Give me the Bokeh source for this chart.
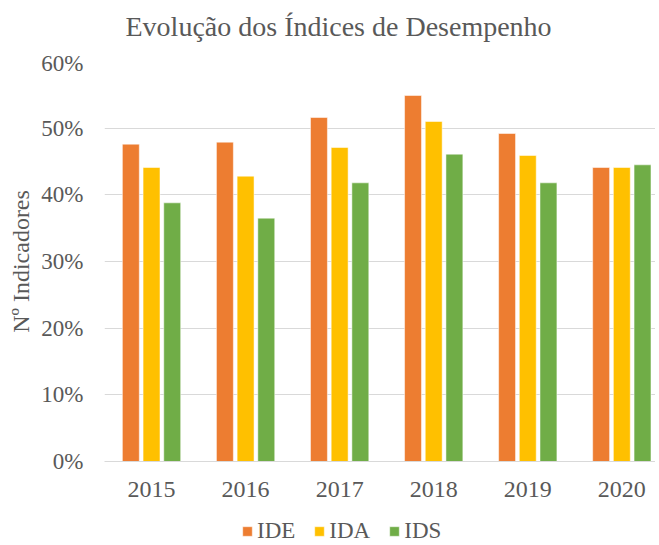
from bokeh.plotting import figure
from bokeh.layouts import column
from bokeh.models import (ColumnDataSource, Range1d, FixedTicker, NumeralTickFormatter,
                          Legend, LegendItem, Label)
from bokeh.transform import dodge
from bokeh.embed import file_html
from bokeh.resources import INLINE

title_text = "Evolução dos Índices de Desempenho"
y_label = "Nº Indicadores"
years = ["2015", "2016", "2017", "2018", "2019", "2020"]
ide = [0.476, 0.479, 0.516, 0.549, 0.492, 0.441]
ida = [0.441, 0.428, 0.471, 0.510, 0.459, 0.441]
ids = [0.388, 0.365, 0.418, 0.461, 0.418, 0.445]
series = ["IDE", "IDA", "IDS"]
colors = ["#ED7D31", "#FFC000", "#70AD47"]
y_ticks = [0.0, 0.1, 0.2, 0.3, 0.4, 0.5, 0.6]

FONT = "Liberation Serif"
TXT = "#595959"
GRID = "#D9D9D9"
W = 655
LEFT = 104

src = ColumnDataSource(dict(x=list(range(len(years))), IDE=ide, IDA=ida, IDS=ids))
x_range = Range1d(-0.5, 5.358)


def strip(h, yr):
    f = figure(width=W, height=h, x_range=x_range, y_range=yr,
               output_backend="svg", toolbar_location=None,
               x_axis_location=None, y_axis_location=None,
               min_border_left=LEFT, min_border_right=0, min_border_top=0, min_border_bottom=0)
    f.outline_line_color = None
    f.grid.visible = False
    return f


# ---- title strip
pt = strip(50, Range1d(0, 1))
pt.add_layout(Label(x=21, y=24, x_units="screen", y_units="screen", text=title_text,
                    text_font=FONT, text_font_size="28px", text_color=TXT,
                    text_baseline="middle", text_align="left"))

# ---- main chart
p = figure(width=W, height=456, x_range=x_range, y_range=Range1d(0, 0.6),
           output_backend="svg", toolbar_location=None,
           min_border_left=LEFT, min_border_right=0, min_border_top=11, min_border_bottom=45)
p.outline_line_color = None

bw = 0.18
offsets = [-0.22, 0.0, 0.22]
for name, col, off in zip(series, colors, offsets):
    p.vbar(x=dodge("x", off), top=name, width=bw, source=src, fill_color=col,
           line_color="white", line_alpha=0.5, line_width=1)

xa = p.xaxis[0]
xa.ticker = FixedTicker(ticks=list(range(len(years))))
xa.major_label_overrides = {i: y for i, y in enumerate(years)}
xa.major_label_text_font = FONT
xa.major_label_text_font_size = "24px"
xa.major_label_text_color = TXT
xa.major_tick_line_color = None
xa.minor_tick_line_color = None
xa.axis_line_color = GRID
xa.axis_line_width = 1
xa.major_label_standoff = 14

ya = p.yaxis[0]
ya.ticker = FixedTicker(ticks=y_ticks)
ya.formatter = NumeralTickFormatter(format="0%")
ya.major_label_text_font = FONT
ya.major_label_text_font_size = "23px"
ya.major_label_text_color = TXT
ya.major_tick_line_color = None
ya.minor_tick_line_color = None
ya.axis_line_color = None
ya.major_label_standoff = 15
ya.axis_label = y_label
ya.axis_label_text_font = FONT
ya.axis_label_text_font_size = "24px"
ya.axis_label_text_font_style = "normal"
ya.axis_label_text_color = TXT
ya.axis_label_standoff = 4

p.xgrid.grid_line_color = None
p.ygrid.ticker = FixedTicker(ticks=y_ticks)
p.ygrid.grid_line_color = GRID
p.ygrid.grid_line_width = 1

# ---- legend strip (same bars, out of its visible y range; only the legend shows)
pl = strip(38, Range1d(1, 2))
items = []
for name, col, off in zip(series, colors, offsets):
    r = pl.vbar(x=dodge("x", off), top=name, width=bw, source=src, fill_color=col,
                line_color="white", line_alpha=0.5, line_width=1)
    items.append(LegendItem(label=name, renderers=[r]))
legend = Legend(items=items, location=(137, 0), orientation="horizontal",
                border_line_color=None, background_fill_alpha=0,
                padding=0, margin=0, glyph_width=12, glyph_height=12,
                label_standoff=4, spacing=18,
                label_text_font=FONT, label_text_font_size="23px", label_text_color=TXT)
pl.add_layout(legend)

layout = column(pt, p, pl, spacing=0)
open("out.html", "w").write(file_html(layout, INLINE))
